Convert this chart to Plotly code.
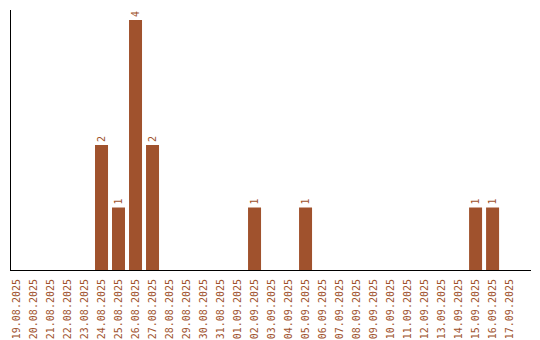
import plotly.graph_objects as go

dates = ["19.08.2025", "20.08.2025", "21.08.2025", "22.08.2025", "23.08.2025",
         "24.08.2025", "25.08.2025", "26.08.2025", "27.08.2025", "28.08.2025",
         "29.08.2025", "30.08.2025", "31.08.2025", "01.09.2025", "02.09.2025",
         "03.09.2025", "04.09.2025", "05.09.2025", "06.09.2025", "07.09.2025",
         "08.09.2025", "09.09.2025", "10.09.2025", "11.09.2025", "12.09.2025",
         "13.09.2025", "14.09.2025", "15.09.2025", "16.09.2025", "17.09.2025"]
counts = [0, 0, 0, 0, 0,
          2, 1, 4, 2, 0,
          0, 0, 0, 0, 1,
          0, 0, 1, 0, 0,
          0, 0, 0, 0, 0,
          0, 0, 1, 1, 0]

color = "#A0522D"
font_family = "DejaVu Sans Mono"

labels = [str(v) if v > 0 else "" for v in counts]

fig = go.Figure(go.Bar(
    x=dates, y=counts, marker_color=color, marker_line_width=0,
    text=labels, textposition="outside", textangle=-90,
    textfont=dict(family=font_family, size=10, color=color),
    cliponaxis=False,
))

fig.update_layout(
    width=540, height=340,
    margin=dict(l=11, r=9, t=10, b=70),
    paper_bgcolor="white", plot_bgcolor="white",
    bargap=0.235, showlegend=False,
    xaxis=dict(type="category", range=[-0.3235, 30.26], showgrid=False,
               showline=True, linecolor="black", linewidth=1,
               ticks="", tickangle=-90, automargin=False,
               ticklabelstandoff=4,
               tickfont=dict(family=font_family, size=10, color=color)),
    yaxis=dict(range=[0, 4.16], showgrid=False, zeroline=False,
               showline=True, linecolor="black", linewidth=1,
               showticklabels=False, ticks="", automargin=False),
)

fig.write_html("out.html")
